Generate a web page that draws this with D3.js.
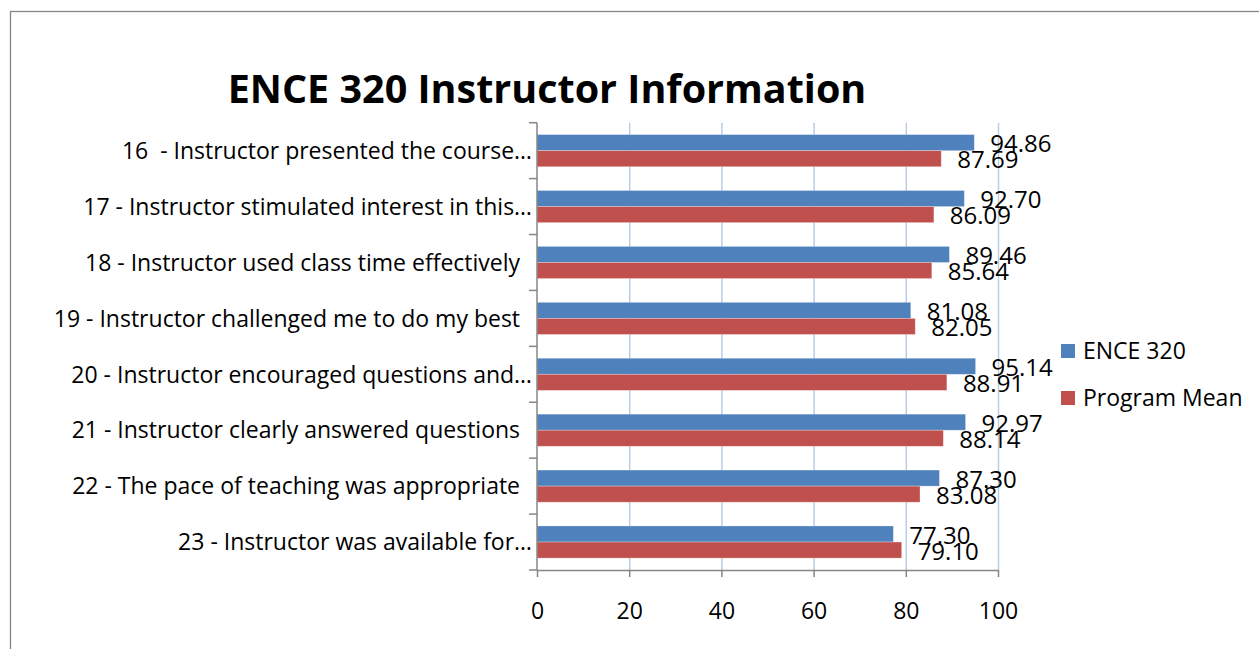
<!doctype html>
<html>
<head>
	<meta charset="utf-8">
	<title>ENCE 320 Instructor Information</title>
	<style>
		body { margin: 0; background: #fff; }
		text { font-family: "Open Sans", sans-serif; fill: #000; }
	</style>
</head>
<body>
	<svg width="1259" height="649"></svg>
	<script src="https://d3js.org/d3.v7.min.js"></script>
	<script>
// chart data
var categories = [
    "16  - Instructor presented the course\u2026",
    "17 - Instructor stimulated interest in this\u2026",
    "18 - Instructor used class time effectively ",
    "19 - Instructor challenged me to do my best ",
    "20 - Instructor encouraged questions and\u2026",
    "21 - Instructor clearly answered questions ",
    "22 - The pace of teaching was appropriate ",
    "23 - Instructor was available for\u2026"
];
var seriesNames = ["ENCE 320", "Program Mean"];
var enceValues = [94.86, 92.70, 89.46, 81.08, 95.14, 92.97, 87.30, 77.30];
var programValues = [87.69, 86.09, 85.64, 82.05, 88.91, 88.14, 83.08, 79.10];
var xTicks = [0, 20, 40, 60, 80, 100];

var colors = ["#4F81BD", "#C0504D"];
var axisColor = "#868686";
var gridColor = "#B9CDE5";

var rows = categories.map(function(c, i) {
    return {cat: c, vals: [enceValues[i], programValues[i]]};
});

const svg = d3.select("svg");

// outer chart frame (runs off the right and bottom of the picture)
svg.append("rect")
    .attr("x", 10.5).attr("y", 11.5)
    .attr("width", 1300).attr("height", 700)
    .attr("fill", "none")
    .attr("stroke", axisColor)
    .attr("stroke-width", 1.3);

var x = d3.scaleLinear().domain([0, 100]).range([537, 998]);
var y = d3.scaleBand().domain(categories).range([122.7, 570]).padding(0);
// the two bars of one category
var sub = d3.scaleBand().domain(seriesNames).range([0, y.bandwidth()])
    .paddingInner(0).paddingOuter(0.74);

// gridlines
svg.append("g")
    .selectAll("line")
    .data(xTicks.slice(1))
    .enter()
    .append("line")
    .attr("x1", function(d) { return x(d) + 0.5; })
    .attr("x2", function(d) { return x(d) + 0.5; })
    .attr("y1", y.range()[0])
    .attr("y2", y.range()[1])
    .attr("stroke", gridColor)
    .attr("stroke-width", 1.5);

// bars
var groups = svg.append("g")
    .selectAll("g")
    .data(rows)
    .enter()
    .append("g")
    .attr("transform", function(d) { return "translate(0," + y(d.cat) + ")"; });

groups.selectAll("rect")
    .data(function(d) { return d.vals.map(function(v, i) { return {name: seriesNames[i], v: v, i: i}; }); })
    .enter()
    .append("rect")
    .attr("x", x(0))
    .attr("y", function(d) { return sub(d.name); })
    .attr("width", function(d) { return x(d.v) - x(0); })
    .attr("height", sub.bandwidth())
    .attr("fill", function(d) { return colors[d.i]; })
    .attr("stroke", "rgba(255,255,255,0.35)")
    .attr("stroke-width", 0.8);

// value labels (they overlap in the original too)
groups.selectAll("text")
    .data(function(d) { return d.vals.map(function(v, i) { return {name: seriesNames[i], v: v, i: i}; }); })
    .enter()
    .append("text")
    .attr("x", function(d) { return x(d.v) + 16; })
    .attr("y", function(d) { return sub(d.name) + sub.bandwidth() / 2 + 1; })
    .attr("dy", "0.36em")
    .attr("font-size", "24px")
    .text(function(d) { return d.v.toFixed(2); });

// left axis: line, ticks at category boundaries, labels
var yAxis = svg.append("g").attr("stroke", axisColor).attr("stroke-width", 1.5);
yAxis.append("line")
    .attr("x1", x(0)).attr("x2", x(0))
    .attr("y1", y.range()[0]).attr("y2", y.range()[1]);
yAxis.selectAll(".tk")
    .data(d3.range(categories.length + 1))
    .enter()
    .append("line")
    .attr("class", "tk")
    .attr("x1", x(0) - 8).attr("x2", x(0))
    .attr("y1", function(i) { return y.range()[0] + i * y.step(); })
    .attr("y2", function(i) { return y.range()[0] + i * y.step(); });

// category labels; repeated/trailing spaces become no-break spaces so they are not collapsed
svg.append("g")
    .selectAll("text")
    .data(categories)
    .enter()
    .append("text")
    .attr("x", 532)
    .attr("y", function(d) { return y(d) + y.bandwidth() / 2; })
    .attr("dy", "0.36em")
    .attr("text-anchor", "end")
    .attr("font-size", "23px")
    .text(function(d) { return d.replace(/  /g, " \u00A0").replace(/ $/, "\u00A0\u00A0"); });

// bottom axis
var xAxis = svg.append("g")
    .attr("transform", "translate(0," + y.range()[1] + ")")
    .call(d3.axisBottom(x).tickValues(xTicks).tickSize(7).tickSizeOuter(0).tickPadding(26));
xAxis.select(".domain").attr("stroke", axisColor).attr("stroke-width", 1.5);
xAxis.selectAll(".tick line").attr("stroke", axisColor).attr("stroke-width", 1.5);
xAxis.selectAll(".tick text")
    .attr("font-family", "Open Sans, sans-serif")
    .attr("font-size", "23px")
    .attr("fill", "#000");

// legend
var legend = svg.append("g")
    .selectAll("g")
    .data(seriesNames)
    .enter()
    .append("g")
    .attr("transform", function(d, i) { return "translate(1061," + (344 + i * 47) + ")"; });
legend.append("rect")
    .attr("width", 14).attr("height", 14)
    .attr("fill", function(d, i) { return colors[i]; });
legend.append("text")
    .attr("x", 22)
    .attr("y", 7)
    .attr("dy", "0.36em")
    .attr("font-size", "23px")
    .text(function(d) { return d; });

// title
svg.append("text")
    .attr("x", 547)
    .attr("y", 103)
    .attr("text-anchor", "middle")
    .attr("font-size", "39.5px")
    .attr("font-weight", "bold")
    .text("ENCE 320 Instructor Information");
	</script>
</body>
</html>
